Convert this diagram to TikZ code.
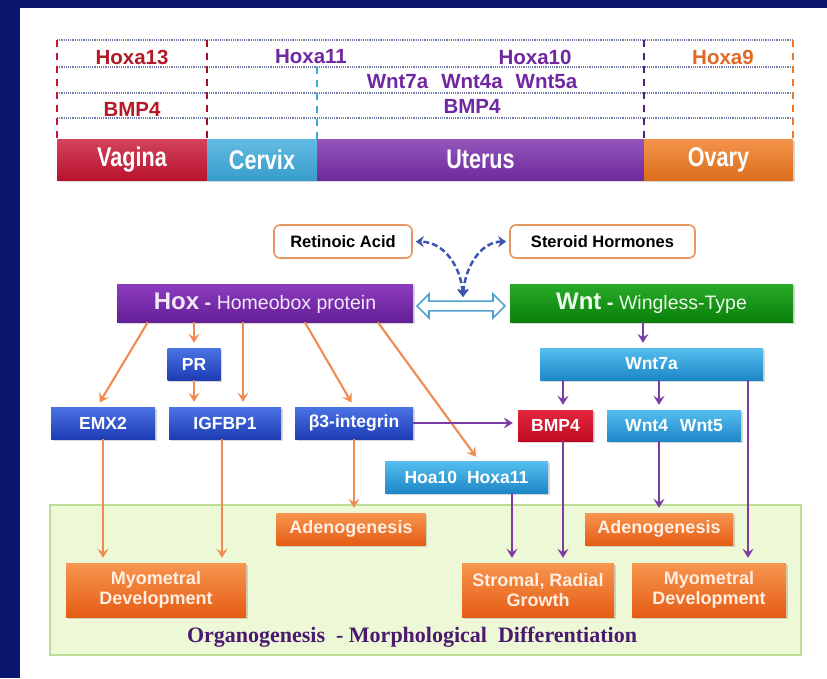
\documentclass[tikz,border=0pt]{standalone}
\usepackage{fontspec}
\setmainfont{Liberation Sans}
\newfontfamily\orgfont{Liberation Serif}
\usepackage{graphicx}
\usetikzlibrary{arrows.meta,shadows,shapes.arrows,calc}
\newcommand{\myfs}[1]{\fontsize{#1}{#1}\selectfont}
\newcommand{\cond}[1]{\scalebox{0.8}[1]{#1}}
\definecolor{navy}{RGB}{10,22,110}
\definecolor{tabC}{RGB}{110,125,170}
\definecolor{vagC}{RGB}{200,20,50}
\definecolor{cerC}{RGB}{60,170,220}
\definecolor{utC}{RGB}{120,45,170}
\definecolor{ovC}{RGB}{240,120,30}
\definecolor{redT}{RGB}{180,25,40}
\definecolor{purT}{RGB}{112,40,160}
\definecolor{oraT}{RGB}{225,105,35}
\definecolor{arrO}{RGB}{240,140,80}
\definecolor{arrP}{RGB}{125,60,165}
\definecolor{dashB}{RGB}{60,85,175}
\definecolor{dblC}{RGB}{80,160,210}
\definecolor{raB}{RGB}{232,150,95}
\definecolor{grF}{RGB}{236,248,214}
\definecolor{grB}{RGB}{190,220,150}
\definecolor{orgC}{RGB}{75,25,110}
\definecolor{cream}{RGB}{255,238,225}
\tikzset{
  tabline/.style={draw=tabC, line width=1.2pt, densely dotted},
  vline/.style={line width=1.4pt, dash pattern=on 7pt off 6pt},
  tlab/.style={font=\bfseries\myfs{20.5}, inner sep=0pt},
  barbox/.style={rectangle, inner sep=0pt, minimum height=41pt, text=white, font=\bfseries\myfs{27},
     drop shadow={shadow xshift=1.5pt, shadow yshift=-2pt, opacity=0.3}},
  box/.style={rectangle, inner sep=0pt, minimum height=32pt, text=white, font=\bfseries\myfs{17.5},
     drop shadow={shadow xshift=1.5pt, shadow yshift=-2pt, opacity=0.3}},
  bluebox/.style={box, top color={rgb,255:red,75;green,115;blue,228}, bottom color={rgb,255:red,30;green,60;blue,180}},
  lbluebox/.style={box, top color={rgb,255:red,85;green,190;blue,238}, bottom color={rgb,255:red,30;green,135;blue,200}},
  redbox/.style={box, top color={rgb,255:red,228;green,40;blue,62}, bottom color={rgb,255:red,190;green,10;blue,35}},
  orbox/.style={box, text=cream, align=center, font=\bfseries\myfs{18}, top color={rgb,255:red,248;green,150;blue,80}, bottom color={rgb,255:red,228;green,92;blue,20}},
  bigbox/.style={box, minimum height=38pt, font=\myfs{19.5}},
  rabox/.style={rectangle, rounded corners=6pt, draw=raB, line width=1.6pt, fill=white, inner sep=0pt,
     minimum height=33pt, font=\bfseries\myfs{16.5}},
  oarr/.style={draw=arrO, line width=2.1pt, -{Stealth[length=9pt,width=11pt,inset=3.5pt]}, shorten >=5pt},
  parr/.style={draw=arrP, line width=2.1pt, -{Stealth[length=9pt,width=11pt,inset=3.5pt]}, shorten >=5pt},
  darr/.style={draw=dashB, line width=2.5pt, dash pattern=on 6pt off 3pt,
     {Stealth[length=8pt,width=11pt,inset=2.5pt]}-{Stealth[length=8pt,width=11pt,inset=2.5pt]}},
}
\begin{document}
\begin{tikzpicture}[x=1pt,y=-1pt]
\useasboundingbox (0,0) rectangle (827,678);
\fill[navy] (0,0) rectangle (827,678);
\fill[white] (20,8) rectangle (827,678);

% ---- top table ----
\foreach \yy in {40,67,93,118} \draw[tabline] (57,\yy) -- (793,\yy);
\draw[vline, draw=vagC] (57,40) -- (57,139);
\draw[vline, draw=vagC!80!black] (207,40) -- (207,139);
\draw[vline, draw=cerC] (317,67) -- (317,139);
\draw[vline, draw=utC!70!black] (644,40) -- (644,139);
\draw[vline, draw=ovC] (793,40) -- (793,139);

\node[tlab, text=redT] (h13) at (132,57) {Hoxa13};
\node[tlab, text=purT] (h11) at (311,57) {Hoxa11};
\node[tlab, text=purT] (h10) at (535,57) {Hoxa10};
\node[tlab, text=oraT] (h9) at (723,57) {Hoxa9};
\node[tlab, text=purT] (wnts) at (472,82) {Wnt7a\hspace{13pt}Wnt4a\hspace{13pt}Wnt5a};
\node[tlab, text=redT] (bl) at (132,109) {BMP4};
\node[tlab, text=purT] (bm) at (472,106) {BMP4};

\node[barbox, top color=vagC!80!white, bottom color=vagC!92!black, minimum width=150pt] (vag) at (132,159.5) {\cond{Vagina}};
\node[barbox, top color=cerC!80!white, bottom color=cerC!92!black, minimum width=110pt] (cer) at (262,159.5) {\cond{Cervix}};
\node[barbox, top color=utC!80!white, bottom color=utC!92!black, minimum width=327pt] (ut) at (480.5,159.5) {\cond{Uterus}};
\node[barbox, top color=ovC!80!white, bottom color=ovC!92!black, minimum width=149pt] (ov) at (718.5,159.5) {\cond{Ovary}};

% ---- green panel ----
\node[rectangle, fill=grF, draw=grB, line width=1.2pt, minimum width=751pt, minimum height=150pt, inner sep=0pt] (panel) at (425.5,580) {};

% ---- upper boxes ----
\node[rabox, minimum width=138pt] (ra) at (343,241.5) {Retinoic Acid};
\node[rabox, minimum width=185pt] (sh) at (602.5,241.5) {Steroid Hormones};

\node[bigbox, top color={rgb,255:red,140;green,60;blue,190}, bottom color={rgb,255:red,100;green,30;blue,150}, minimum width=296pt, text={rgb,255:red,242;green,232;blue,250}] (hox) at (265,303)
  {{\bfseries\myfs{24}Hox}{\bfseries\myfs{20}\ -} Homeobox protein};
\node[bigbox, top color={rgb,255:red,40;green,170;blue,40}, bottom color={rgb,255:red,10;green,128;blue,10}, minimum width=283pt, text={rgb,255:red,235;green,250;blue,235}] (wnt) at (651.5,303)
  {{\bfseries\myfs{24}Wnt}{\bfseries\myfs{20}\ -} Wingless-Type};

\node[double arrow, draw=dblC, line width=1.6pt, fill=white, inner sep=4pt, minimum width=24pt,
      minimum height=88pt, double arrow head extend=7pt] (dbl) at (461,306) {};
\coordinate (meet) at (463,297);
\draw[darr, shorten >=3pt] (meet) .. controls (461,268) and (445,242) .. (ra.east);
\draw[darr, shorten >=3pt] (meet) .. controls (465,268) and (480,242) .. (sh.west);

\node[bluebox, minimum width=53pt] (pr) at (194,364) {PR};
\node[bluebox, minimum width=104pt] (emx) at (103,423) {EMX2};
\node[bluebox, minimum width=112pt] (igf) at (225,423) {IGFBP1};
\node[bluebox, minimum width=118pt] (b3) at (354,423) {β3-integrin};

\node[lbluebox, minimum width=223pt] (w7) at (651.5,364) {Wnt7a};
\node[redbox, minimum width=75pt, minimum height=31pt] (bmp) at (555.5,425.5) {BMP4};
\node[lbluebox, minimum width=134pt, minimum height=31pt] (w45) at (674,425.5) {Wnt4\hspace{12pt}Wnt5};
\node[lbluebox, minimum width=163pt] (hoa) at (466.5,477) {Hoa10\hspace{10pt}Hoxa11};

% ---- lower boxes ----
\node[orbox, minimum width=149pt] (adl) at (351,529) {Adenogenesis};
\node[orbox, minimum width=148pt] (adr) at (659,529) {Adenogenesis};
\node[orbox, minimum width=180pt, minimum height=54pt] (myl) at (156,590) {Myometral\\[2pt]Development};
\node[orbox, minimum width=152pt, minimum height=54pt] (str) at (538,590) {Stromal, Radial\\[2pt]Growth};
\node[orbox, minimum width=154pt, minimum height=54pt] (myr) at (709,590) {Myometral\\[2pt]Development};

\node[font=\orgfont\bfseries\myfs{22}, text=orgC, inner sep=0pt] (org) at (412,637)
  {Organogenesis\ \ - Morphological\ \ Differentiation};

% ---- orange arrows ----
\draw[oarr] ([xshift=31pt]hox.south west) -- ([xshift=-6pt]emx.north);
\draw[oarr] (pr.north |- hox.south) -- (pr.north);
\draw[oarr] (pr.south) -- (pr.south |- igf.north);
\draw[oarr] ([xshift=18pt]igf.north |- hox.south) -- ([xshift=18pt]igf.north);
\draw[oarr] ([xshift=188pt]hox.south west) -- (b3.north);
\draw[oarr] ([xshift=261pt]hox.south west) -- ([xshift=12.5pt]hoa.north);
\draw[oarr] (emx.south) -- (emx.south |- myl.north);
\draw[oarr] ([xshift=-3pt]igf.south) -- ([xshift=-3pt]igf.south |- myl.north);
\draw[oarr] (b3.south) -- (b3.south |- adl.north);

% ---- purple arrows ----
\draw[parr] ([xshift=-8.5pt]w7.north |- wnt.south) -- ([xshift=-8.5pt]w7.north);
\draw[parr] ([xshift=7.5pt]bmp.north |- w7.south) -- ([xshift=7.5pt]bmp.north);
\draw[parr] ([xshift=-15pt]w45.north |- w7.south) -- ([xshift=-15pt]w45.north);
\draw[parr] ([xshift=39pt]myr.north |- w7.south) -- ([xshift=39pt]myr.north);
\draw[parr] (b3.east) -- (b3.east -| bmp.west);
\draw[parr] ([xshift=7.5pt]bmp.south) -- ([xshift=7.5pt]bmp.south |- str.north);
\draw[parr] ([xshift=45.5pt]hoa.south) -- ([xshift=45.5pt]hoa.south |- str.north);
\draw[parr] (adr.north |- w45.south) -- (adr.north);
\end{tikzpicture}
\end{document}
